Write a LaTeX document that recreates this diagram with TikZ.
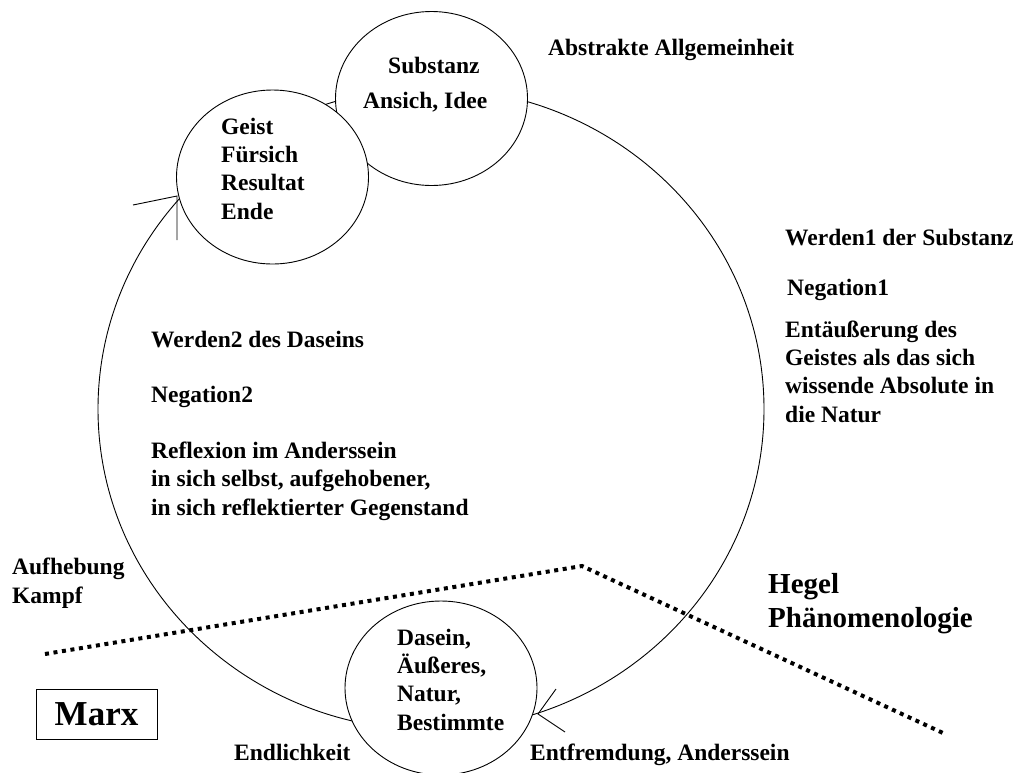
\documentclass[tikz,border=0pt]{standalone}
\usepackage{fontspec}
\setmainfont{Liberation Serif}
\usetikzlibrary{shapes.geometric}
\begin{document}
\begin{tikzpicture}[x=1pt,y=-1pt,
  bubble/.style={ellipse,draw,fill=white,line width=0.9pt,minimum width=192pt,minimum height=174pt,inner sep=0pt,outer sep=0pt},
  lbl/.style={anchor=base west,inner sep=0pt,align=left,font=\fontsize{23.5}{28.2}\selectfont\bfseries},
  biglbl/.style={anchor=base west,inner sep=0pt,align=left,font=\fontsize{29}{34}\selectfont\bfseries},
  thin/.style={line width=0.9pt},
  sepline/.style={line width=4pt,dash pattern=on 4pt off 4.6pt}]
\useasboundingbox (0,0) rectangle (1022,772);
% big cycle
\draw[thin] (431,409) ellipse [x radius=333, y radius=321];
% bubbles
\node[bubble] (substanz) at (431.5,98.5) {};
\node[bubble] (geist) at (272.5,177) {};
\node[bubble] (dasein) at (441,688) {};
% arrowheads
\coordinate (tipG) at (177,196);
\coordinate (armG1) at (133,205);
\coordinate (armG2) at (177,240);
\draw[thin] (armG1) -- (tipG) -- (armG2);
\coordinate (tipD) at (538,714);
\coordinate (armD1) at (556,689);
\coordinate (armD2) at (565,732);
\draw[thin] (armD1) -- (tipD) -- (armD2);
% separating dotted line
\coordinate (s1) at (45,654);
\coordinate (s2) at (582,566);
\coordinate (s3) at (943,733);
\draw[sepline] (s1) -- (s2) -- (s3);
% bubble texts (multi-line nodes are placed by their last baseline)
\node[lbl] (t-sub) at (388,73) {Substanz};
\node[lbl] (t-ans) at (363,108) {Ansich, Idee};
\node[lbl] (t-geist) at (221,219) {Geist\\Fürsich\\Resultat\\Ende};
\node[lbl] (t-dasein) at (397,730) {Dasein,\\Äußeres,\\Natur,\\Bestimmte};
% other texts
\node[lbl] (t-abs) at (548,55) {Abstrakte Allgemeinheit};
\node[lbl] (t-w1) at (785,245) {Werden1 der Substanz};
\node[lbl] (t-n1) at (787,295) {Negation1};
\node[lbl] (t-ent) at (785,422) {Entäußerung des\\Geistes als das sich\\wissende Absolute in\\die Natur};
\node[lbl] (t-w2) at (151,347) {Werden2 des Daseins};
\node[lbl] (t-n2) at (151,402) {Negation2};
\node[lbl] (t-refl) at (151,515) {Reflexion im Anderssein\\in sich selbst, aufgehobener,\\in sich reflektierter Gegenstand};
\node[lbl] (t-auf) at (12,603) {Aufhebung\\Kampf};
\node[biglbl] (t-hegel) at (768,627) {Hegel\\Phänomenologie};
\node[lbl] (t-endl) at (234,760) {Endlichkeit};
\node[lbl] (t-entf) at (530,760) {Entfremdung, Anderssein};
\node[draw,thin,minimum width=121pt,minimum height=50pt,inner sep=0pt,font=\fontsize{35}{40}\selectfont\bfseries] (marx) at (96.5,714) {Marx};
\end{tikzpicture}
\end{document}
